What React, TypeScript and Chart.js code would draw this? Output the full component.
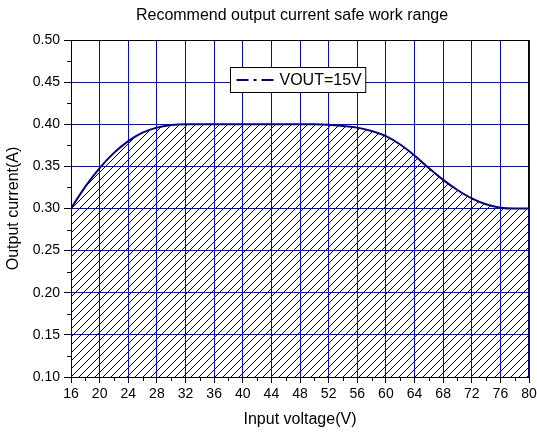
import React, { useEffect, useRef } from 'react';
import { Chart, registerables } from 'chart.js';

Chart.register(...registerables);

const chartTitle = 'Recommend output current safe work range';
const xAxisTitle = 'Input voltage(V)';
const yAxisTitle = 'Output current(A)';
const seriesLabel = 'VOUT=15V';

const voltage = [16, 18, 20, 22, 24, 26, 28, 30, 32, 34, 36, 38, 40, 42, 44, 46, 48, 50, 52, 54, 56, 58, 60, 62, 64, 66, 68, 70, 72, 74, 76, 78, 80];
const current = [0.300, 0.326, 0.348, 0.366, 0.380, 0.390, 0.396, 0.399, 0.400, 0.400, 0.400, 0.400, 0.400, 0.400, 0.400, 0.400, 0.400, 0.400, 0.3995, 0.398, 0.396, 0.392, 0.386, 0.376, 0.363, 0.348, 0.334, 0.322, 0.312, 0.305, 0.301, 0.300, 0.300];

const xTicks = [16, 20, 24, 28, 32, 36, 40, 44, 48, 52, 56, 60, 64, 68, 72, 76, 80];
const yTicks = [0.10, 0.15, 0.20, 0.25, 0.30, 0.35, 0.40, 0.45, 0.50];

const FONT = '"Liberation Sans", Arial, Helvetica, sans-serif';
const NAVY = '#000080';
const BLUE = '#0000ff';

function makeHatch(): CanvasPattern | string {
  const c = document.createElement('canvas');
  const s = 8;
  c.width = s;
  c.height = s;
  const g = c.getContext('2d');
  if (!g) return 'rgba(0,0,0,0.2)';
  g.strokeStyle = '#000';
  g.lineWidth = 1;
  g.beginPath();
  g.moveTo(0, s);
  g.lineTo(s, 0);
  g.moveTo(-s / 2, s / 2);
  g.lineTo(s / 2, -s / 2);
  g.moveTo(s / 2, s + s / 2);
  g.lineTo(s + s / 2, s / 2);
  g.stroke();
  const p = g.createPattern(c, 'repeat');
  return p || 'rgba(0,0,0,0.2)';
}

const titlePlugin = {
  id: 'plotTitle',
  afterDraw(chart: any) {
    const { ctx, chartArea: ca } = chart;
    ctx.save();
    ctx.font = `16px ${FONT}`;
    ctx.fillStyle = '#000';
    ctx.textAlign = 'center';
    ctx.textBaseline = 'middle';
    ctx.fillText(chartTitle, (ca.left + ca.right) / 2 - 8, ca.top - 24);
    ctx.restore();
  },
};

const framePlugin = {
  id: 'frameTop',
  beforeDatasetsDraw(chart: any) {
    const { ctx, chartArea: ca } = chart;
    ctx.save();
    ctx.strokeStyle = '#000';
    ctx.lineWidth = 1;
    ctx.beginPath();
    const t = Math.round(ca.top) + 0.5;
    const r = Math.round(ca.right) - 0.5;
    ctx.moveTo(ca.left, t);
    ctx.lineTo(r, t);
    ctx.lineTo(r, ca.bottom);
    ctx.stroke();
    ctx.restore();
  },
};

const minorTickPlugin = {
  id: 'minorTicks',
  afterDraw(chart: any) {
    const { ctx } = chart;
    ctx.save();
    ctx.strokeStyle = '#000';
    ctx.lineWidth = 1;
    const xs = chart.scales.x;
    const ys = chart.scales.y;
    ctx.beginPath();
    xs.ticks.forEach((_t: any, i: number) => {
      if (i % 2 === 1) {
        const px = Math.round(xs.getPixelForTick(i)) + 0.5;
        ctx.moveTo(px, xs.top);
        ctx.lineTo(px, xs.top + 4);
      }
    });
    ys.ticks.forEach((_t: any, i: number) => {
      if (i % 2 === 1) {
        const py = Math.round(ys.getPixelForTick(i)) + 0.5;
        ctx.moveTo(ys.right, py);
        ctx.lineTo(ys.right - 4, py);
      }
    });
    ctx.stroke();
    ctx.restore();
  },
};

const boxLegendPlugin = {
  id: 'boxLegend',
  afterDraw(chart: any) {
    const { ctx, chartArea: ca } = chart;
    const ds = chart.data.datasets[0];
    ctx.save();
    ctx.font = `16px ${FONT}`;
    const tw = ctx.measureText(ds.label).width;
    const padL = 6;
    const sample = 38;
    const gap = 5;
    const padR = 4;
    const boxW = padL + sample + gap + tw + padR;
    const boxH = 25;
    const cx = (ca.left + ca.right) / 2 - 2;
    const x0 = Math.round(cx - boxW / 2) + 0.5;
    const y0 = Math.round(ca.top + 27) + 0.5;
    ctx.fillStyle = '#fff';
    ctx.fillRect(x0, y0, boxW, boxH);
    ctx.strokeStyle = '#000';
    ctx.lineWidth = 1;
    ctx.strokeRect(x0, y0, boxW, boxH);
    const ly = y0 + boxH / 2;
    ctx.strokeStyle = ds.borderColor;
    ctx.lineWidth = 2;
    ctx.setLineDash([12, 5, 3, 5]);
    ctx.beginPath();
    ctx.moveTo(x0 + padL, ly);
    ctx.lineTo(x0 + padL + sample, ly);
    ctx.stroke();
    ctx.setLineDash([]);
    ctx.fillStyle = '#000';
    ctx.textBaseline = 'middle';
    ctx.textAlign = 'left';
    ctx.fillText(ds.label, x0 + padL + sample + gap, ly + 1);
    ctx.restore();
  },
};

export default function App() {
  const ref = useRef<HTMLCanvasElement | null>(null);

  useEffect(() => {
    document.body.style.margin = '0';
    const canvas = ref.current;
    if (!canvas) return;
    const yMin = yTicks[0];
    const yMax = yTicks[yTicks.length - 1];
    const xMin = xTicks[0];
    const xMax = xTicks[xTicks.length - 1];
    const edgeStyle = {
      borderColor: NAVY,
      borderWidth: 2,
      pointRadius: 0,
      fill: false,
      label: '',
    };
    const chart = new Chart(canvas, {
      type: 'line',
      data: {
        datasets: [
          {
            label: seriesLabel,
            data: voltage.map((v, i) => ({ x: v, y: current[i] })),
            borderColor: NAVY,
            borderWidth: 2,
            pointRadius: 0,
            cubicInterpolationMode: 'monotone',
            fill: 'start',
            backgroundColor: makeHatch() as any,
          },
          {
            ...edgeStyle,
            data: [
              { x: voltage[0], y: yMin },
              { x: voltage[0], y: current[0] },
            ],
          },
          {
            ...edgeStyle,
            data: [
              { x: voltage[voltage.length - 1], y: yMin },
              { x: voltage[voltage.length - 1], y: current[current.length - 1] },
            ],
          },
        ],
      },
      options: {
        animation: false,
        responsive: true,
        maintainAspectRatio: false,
        devicePixelRatio: 1,
        layout: { padding: { left: 0, right: 8, top: 40, bottom: 0 } },
        plugins: {
          legend: { display: false },
          tooltip: { enabled: false },
          filler: { drawTime: 'beforeDraw' },
          title: { display: false },
        },
        scales: {
          x: {
            type: 'linear',
            min: xMin,
            max: xMax,
            afterFit: (s: any) => {
              s.height = 55;
              s.paddingLeft = 0;
              s.paddingRight = 0;
            },
            ticks: {
              stepSize: (xTicks[1] - xTicks[0]) / 2,
              autoSkip: false,
              maxRotation: 0,
              padding: 3,
              color: '#000',
              font: { family: FONT, size: 14 },
              callback: (v: any, i: number) => (i % 2 === 0 ? String(v) : ''),
            },
            grid: {
              color: (c: any) => (c.index % 2 === 0 ? BLUE : 'rgba(0,0,0,0)'),
              tickColor: (c: any) => (c.index % 2 === 0 ? '#000' : 'rgba(0,0,0,0)'),
              tickLength: 6,
              lineWidth: 1,
            },
            border: { color: '#000', width: 1 },
            title: {
              display: true,
              text: xAxisTitle,
              color: '#000',
              font: { family: FONT, size: 16 },
              padding: { top: 0, bottom: 2.4 },
            },
          },
          y: {
            type: 'linear',
            min: yMin,
            max: yMax,
            afterFit: (s: any) => {
              s.width = 71;
              s.paddingTop = 0;
              s.paddingBottom = 0;
            },
            ticks: {
              stepSize: (yTicks[1] - yTicks[0]) / 2,
              autoSkip: false,
              padding: 4,
              color: '#000',
              font: { family: FONT, size: 14 },
              callback: (v: any, i: number) => (i % 2 === 0 ? Number(v).toFixed(2) : ''),
            },
            grid: {
              color: (c: any) => (c.index % 2 === 0 ? BLUE : 'rgba(0,0,0,0)'),
              tickColor: (c: any) => (c.index % 2 === 0 ? '#000' : 'rgba(0,0,0,0)'),
              tickLength: 7,
              lineWidth: 1,
            },
            border: { color: '#000', width: 1 },
            title: {
              display: true,
              text: yAxisTitle,
              color: '#000',
              font: { family: FONT, size: 16 },
              padding: { top: 4.4, bottom: 0 },
            },
          },
        },
      } as any,
      plugins: [titlePlugin, framePlugin, minorTickPlugin, boxLegendPlugin],
    });
    return () => chart.destroy();
  }, []);

  return (
    <div style={{ position: 'absolute', left: 0, top: 0, width: 537, height: 432 }}>
      <canvas ref={ref} />
    </div>
  );
}
